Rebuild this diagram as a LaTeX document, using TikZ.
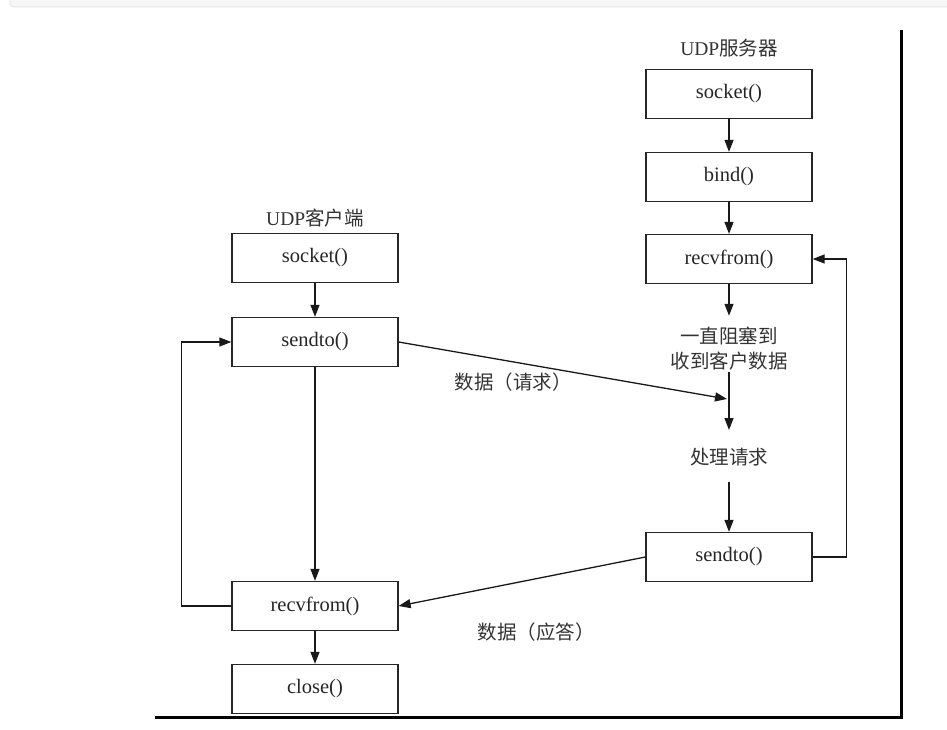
\documentclass[tikz,border=0pt]{standalone}
\usepackage{fontspec}
\setmainfont{Liberation Serif}
\newfontfamily\cjk{Noto Sans CJK SC}
\usetikzlibrary{arrows.meta}
\begin{document}
\begin{tikzpicture}[x=1pt, y=-1pt, line width=1.3pt,
  box/.style={draw=black!85, minimum width=166pt, minimum height=49pt, inner sep=0pt,
    text=black!85, font=\fontsize{20.5}{20.5}\selectfont},
  lab/.style={inner sep=1pt, align=center, text=black!80, font=\fontsize{19.5}{25}\selectfont},
  arr/.style={draw=black!90, -{Triangle[length=12pt,width=9pt]}}]
  \useasboundingbox (0,0) rectangle (947,730);
  % page strip and frame
  \draw[black!12, fill=black!3, line width=0.8pt, rounded corners=4pt] (10,-8) rectangle (955,7);
  \draw[line width=3pt] (155,717) -- (901,717) -- (901,30);
  % server side
  \node[lab] (stitle) at (729,48) {UDP\cjk 服务器};
  \node[box] (ssock) at (729,94) {socket()};
  \node[box] (sbind) at (729,177) {bind()};
  \node[box] (srecv) at (729,259) {recvfrom()};
  \node[lab] (swait) at (729,349) {\cjk 一直阻塞到\\\cjk 收到客户数据};
  \coordinate (sin) at (727,399);
  \coordinate (sgap) at (729,430);
  \node[lab] (sproc) at (729,457) {\cjk 处理请求};
  \node[box] (ssend) at (729,557) {sendto()};
  \draw[arr] (ssock) -- (sbind);
  \draw[arr] (sbind) -- (srecv);
  \draw[arr, shorten >=10pt] (srecv) -- (swait);
  \draw[arr] (swait) -- (sgap);
  \draw[arr, shorten <=14pt] (sproc) -- (ssend);
  \draw[arr] (ssend.east) -- ++(34,0) |- (srecv.east);
  % client side
  \node[lab] (ctitle) at (315,218) {UDP\cjk 客户端};
  \node[box] (csock) at (315,258) {socket()};
  \node[box] (csend) at (315,342) {sendto()};
  \node[box] (crecv) at (315,606) {recvfrom()};
  \node[box] (cclose) at (315,689) {close()};
  \draw[arr] (csock) -- (csend);
  \draw[arr] (csend) -- (crecv);
  \draw[arr] (crecv) -- (cclose);
  \draw[arr] (crecv.west) -- ++(-50,0) |- (csend.west);
  % data exchange
  \draw[arr] (csend.east) -- (sin);
  \node[lab] (req) at (513,382) {\cjk 数据（请求）};
  \draw[arr] (ssend.west) -- (crecv.east);
  \node[lab] (resp) at (536,632) {\cjk 数据（应答）};
\end{tikzpicture}
\end{document}
